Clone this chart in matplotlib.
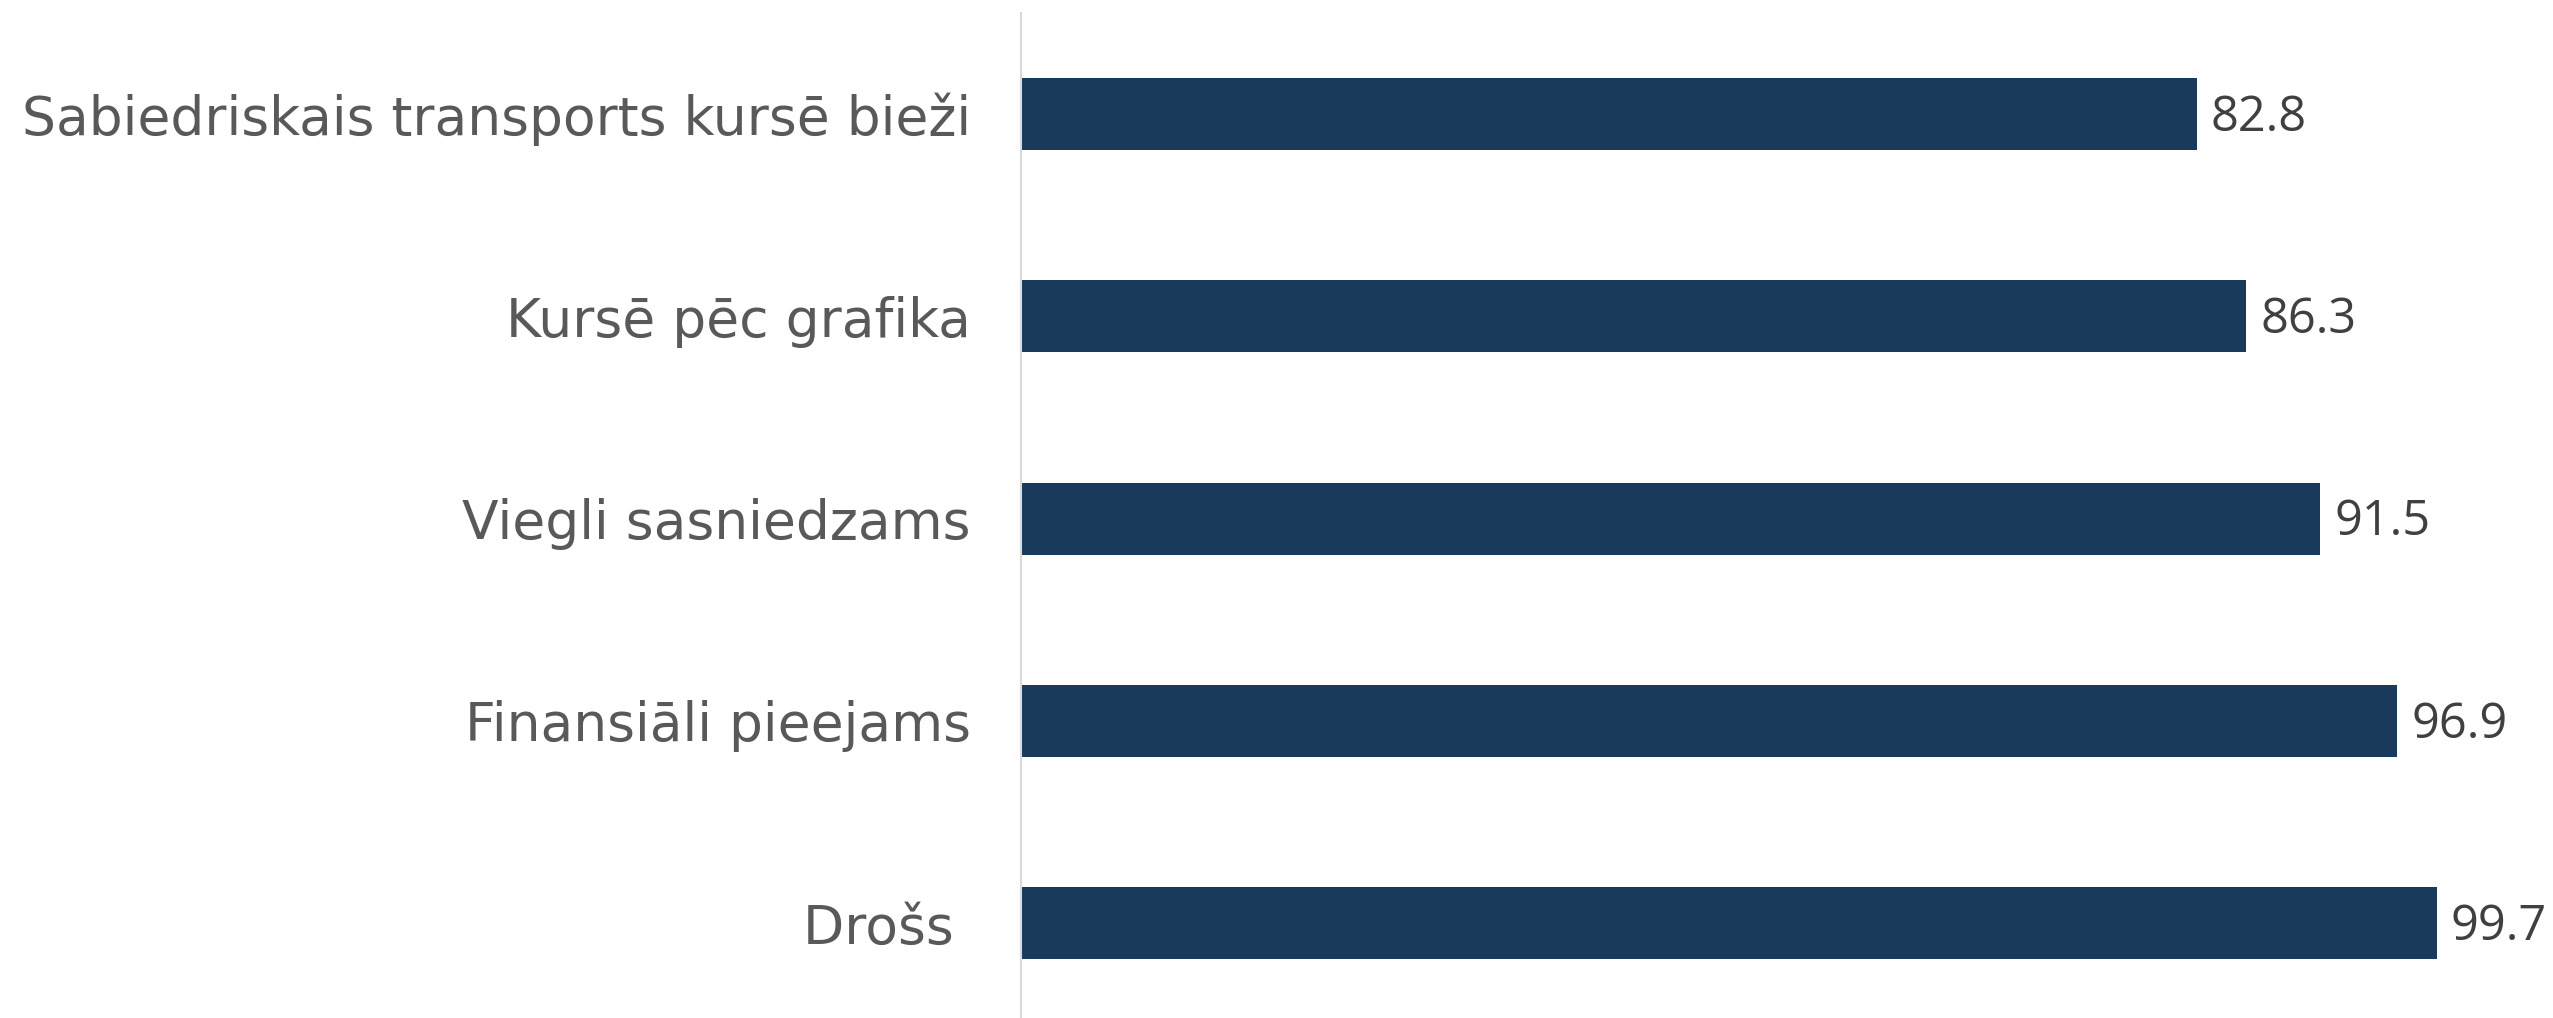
import matplotlib
matplotlib.use("Agg")
import matplotlib.pyplot as plt

categories = ["Sabiedriskais transports kursē bieži", "Kursē pēc grafika",
              "Viegli sasniedzams", "Finansiāli pieejams", "Drošs "]
values = [82.8, 86.3, 91.5, 96.9, 99.7]
value_labels = ["82.8", "86.3", "91.5", "96.9", "99.7"]

fig = plt.figure(figsize=(25.53, 10.18), dpi=100)
ax = fig.add_axes([1021/2553, 0.0, 1 - 1021/2553, 1 - 13/1018])

y = list(range(len(categories)))
ax.barh(y, values, height=0.356, color="#1a3a5c")
ax.set_xlim(0, 107.9)
ax.set_ylim(4.47, -0.5)

ax.set_yticks(y)
ax.set_yticklabels(categories, fontsize=38.5, color="#595959", family="DejaVu Sans")
ax.tick_params(axis="y", length=0, pad=36)
ax.set_xticks([])

for s in ["top", "right", "bottom"]:
    ax.spines[s].set_visible(False)
ax.spines["left"].set_color("#d9d9d9")
ax.spines["left"].set_linewidth(1.5)

for yi, v, lab in zip(y, values, value_labels):
    ax.text(v + 1.0, yi + 0.02, lab, va="center", ha="left", fontsize=35,
            color="#404040", family="Open Sans")

fig.savefig("out.png", dpi=100, facecolor="white")
